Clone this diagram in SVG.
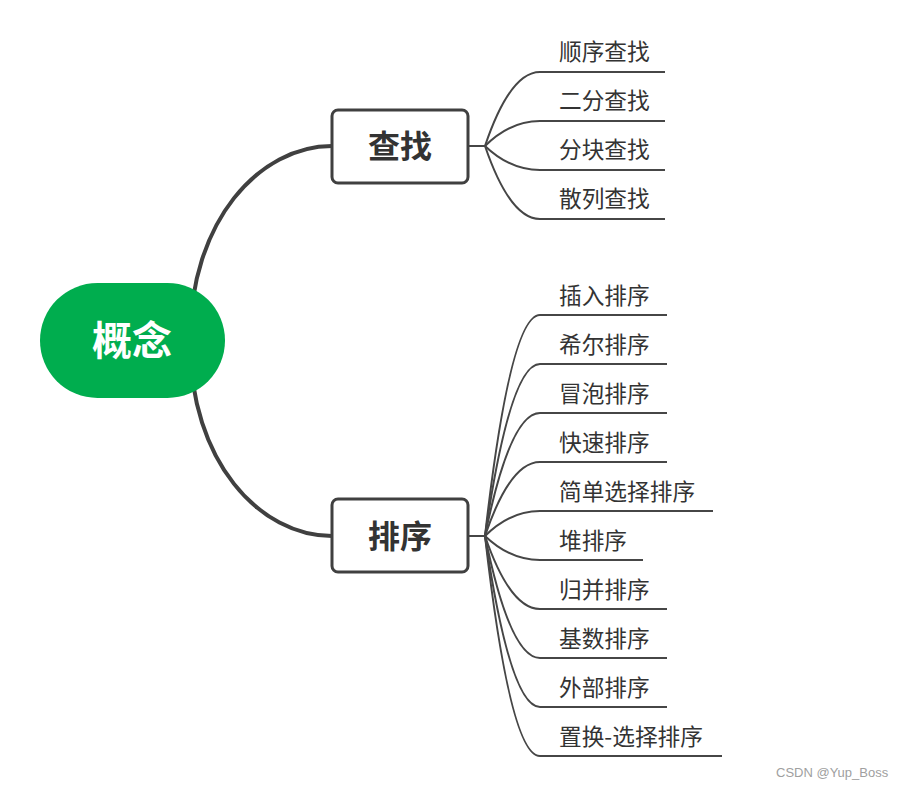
<svg xmlns="http://www.w3.org/2000/svg" width="904" height="788" viewBox="0 0 904 788">
<style>
.main{fill:none;stroke:#404040;stroke-width:4;stroke-linecap:round}
.br{fill:none;stroke:#464646;stroke-width:2}
.box{fill:#fff;stroke:#404040;stroke-width:3}
.t{font-family:"Noto Sans CJK SC","Microsoft YaHei",sans-serif;font-size:22.7px;fill:#333}
.bt{font-family:"Noto Sans CJK SC","Microsoft YaHei",sans-serif;font-size:32px;font-weight:bold;fill:#333;text-anchor:middle}
.rt{font-family:"Noto Sans CJK SC","Microsoft YaHei",sans-serif;font-size:40px;font-weight:bold;fill:#fff;text-anchor:middle}
.wm{font-family:"Liberation Sans",Arial,sans-serif;font-size:13px;fill:#a0a0a0}
</style>
<rect width="904" height="788" fill="#fff"/>
<g id="connectors">
<path class="main" d="M190,341 C190,220 260,146 332,146"/>
<path class="main" d="M190,341 C190,462 260,536 332,536"/>
<path class="br" d="M468,146 H485"/>
<path class="br" d="M485,146 Q510,72 540,72 H665"/>
<path class="br" d="M485,146 Q510,121 540,121 H665"/>
<path class="br" d="M485,146 Q510,170 540,170 H665"/>
<path class="br" d="M485,146 Q510,219 540,219 H665"/>
<path class="br" d="M468,536 H485"/>
<path class="br" d="M485,536 Q510,315 540,315 H667"/>
<path class="br" d="M485,536 Q510,364 540,364 H667"/>
<path class="br" d="M485,536 Q510,413 540,413 H667"/>
<path class="br" d="M485,536 Q510,462 540,462 H667"/>
<path class="br" d="M485,536 Q510,511 540,511 H713"/>
<path class="br" d="M485,536 Q510,560 540,560 H643"/>
<path class="br" d="M485,536 Q510,609 540,609 H667"/>
<path class="br" d="M485,536 Q510,658 540,658 H667"/>
<path class="br" d="M485,536 Q510,707 540,707 H667"/>
<path class="br" d="M485,536 Q510,756 540,756 H722"/>
</g>
<g id="root">
<rect x="40" y="283" width="185" height="115" rx="57.5" fill="#00AD4E"/>
<text class="rt" x="132" y="355">概念</text>
</g>
<g id="search">
<rect class="box" x="332" y="110" width="136" height="73" rx="6"/>
<text class="bt" x="400" y="158">查找</text>
</g>
<g id="sort">
<rect class="box" x="332" y="499" width="136" height="73" rx="6"/>
<text class="bt" x="400" y="548">排序</text>
</g>
<g id="search-items">
<text class="t" x="559" y="60">顺序查找</text>
<text class="t" x="559" y="109">二分查找</text>
<text class="t" x="559" y="158">分块查找</text>
<text class="t" x="559" y="207">散列查找</text>
</g>
<g id="sort-items">
<text class="t" x="559" y="304">插入排序</text>
<text class="t" x="559" y="353">希尔排序</text>
<text class="t" x="559" y="402">冒泡排序</text>
<text class="t" x="559" y="451">快速排序</text>
<text class="t" x="559" y="500">简单选择排序</text>
<text class="t" x="559" y="549">堆排序</text>
<text class="t" x="559" y="598">归并排序</text>
<text class="t" x="559" y="647">基数排序</text>
<text class="t" x="559" y="696">外部排序</text>
<text class="t" x="559" y="745">置换-选择排序</text>
</g>
<text class="wm" x="776" y="777">CSDN @Yup_Boss</text>
</svg>
